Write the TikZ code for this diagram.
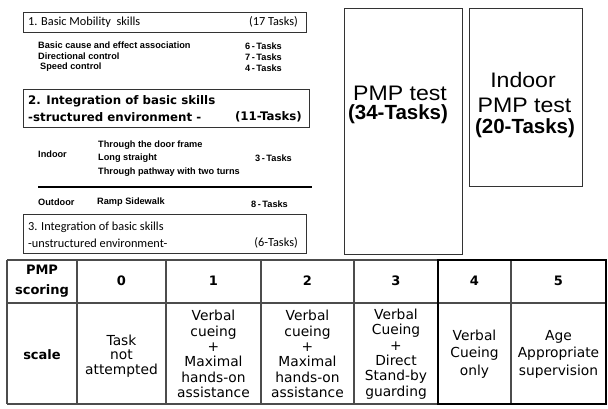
\documentclass[tikz,border=0pt]{standalone}
\usepackage{fontspec}
\setmainfont{DejaVu Sans}
\newfontfamily\calf{Carlito}
\newfontfamily\libf{Liberation Sans}
\begin{document}
\begin{tikzpicture}[x=1pt,y=-1pt,
  topbox/.style={draw=black!80,line width=0.8pt},
  lbl/.style={anchor=west,inner sep=0pt,font=\calf\fontsize{12.3}{14}\selectfont},
  item/.style={anchor=west,inner sep=0pt,font=\libf\bfseries\fontsize{9.2}{10}\selectfont},
  big/.style={anchor=west,inner sep=0pt,font=\bfseries\fontsize{11.8}{14}\selectfont},
  tline/.style={draw=black!70,line width=1.2pt},
  thick/.style={draw=black,line width=2.4pt},
  cell/.style={align=center,inner sep=0pt,font=\fontsize{13.8}{15.3}\selectfont},
  head/.style={align=center,inner sep=0pt,font=\bfseries\fontsize{13}{19.5}\selectfont},
  pmpa/.style={anchor=base,inner sep=0pt,font=\libf\fontsize{21}{21}\selectfont},
  pmpb/.style={anchor=base,inner sep=0pt,font=\libf\bfseries\fontsize{20.5}{21}\selectfont}
]
\useasboundingbox (0,0) rectangle (608,408);
% Box 1
\node[topbox,minimum width=283pt,minimum height=20pt,anchor=north west,inner sep=0pt] (b1) at (23,12) {};
\node[lbl] (b1t) at (28,22) {1. Basic Mobility\ \ skills};
\node[lbl,anchor=east] (b1n) at (298,22) {(17 Tasks)};
\node[item] (i1) at (38,45.5) {Basic cause and effect association};
\node[item] (i2) at (38,56.5) {Directional control};
\node[item] (i3) at (40,67.5) {Speed control};
\node[item] (n1) at (245,46) {6\,-\,Tasks};
\node[item] (n2) at (245,57) {7\,-\,Tasks};
\node[item] (n3) at (245,68) {4\,-\,Tasks};
% Box 2
\node[topbox,minimum width=286pt,minimum height=38pt,anchor=north west,inner sep=0pt] (b2) at (23,89) {};
\node[big] (b2a) at (28,101) {2. Integration of basic skills};
\node[big] (b2b) at (28,117) {-structured environment -};
\node[big,anchor=east] (b2n) at (302,117) {(11-Tasks)};
\node[item] (ind) at (38,154) {Indoor};
\node[item] (t1) at (98,145) {Through the door frame};
\node[item] (t2) at (98,158) {Long straight};
\node[item] (t3) at (98,172) {Through pathway with two turns};
\node[item] (n4) at (255,158) {3\,-\,Tasks};
\coordinate (sl) at (38,187);
\coordinate (sr) at (312,187);
\draw[line width=1.6pt] (sl) -- (sr);
\node[item] (out) at (38,202) {Outdoor};
\node[item] (rmp) at (97,202) {Ramp Sidewalk};
\node[item] (n5) at (251,204) {8\,-\,Tasks};
% Box 3
\node[topbox,minimum width=283pt,minimum height=39pt,anchor=north west,inner sep=0pt] (b3) at (23,214) {};
\node[lbl] (b3a) at (28,227) {3. Integration of basic skills};
\node[lbl] (b3b) at (28,243) {-unstructured environment-};
\node[lbl,anchor=east] (b3n) at (298,243) {(6-Tasks)};
% PMP boxes
\node[topbox,minimum width=118pt,minimum height=246pt,anchor=north west,inner sep=0pt] (p1) at (344,8) {};
\node[pmpa] (p1a) at (400,100) {\scalebox{1.1}[1]{PMP test}};
\node[pmpb] (p1b) at (398,119) {(34-Tasks)};
\node[topbox,minimum width=113pt,minimum height=178pt,anchor=north west,inner sep=0pt] (p2) at (469,8) {};
\node[pmpa] (p2a) at (523,87) {\scalebox{1.1}[1]{Indoor}};
\node[pmpa] (p2b) at (524.5,112) {\scalebox{1.1}[1]{PMP test}};
\node[pmpb] (p2c) at (525,133) {(20-Tasks)};
% Table
\coordinate (tl) at (7,260);
\coordinate (tr) at (606,260);
\coordinate (ml) at (7,303);
\coordinate (mr) at (606,303);
\coordinate (bl) at (7,404);
\coordinate (br) at (606,404);
\draw[tline] (tl) -- (tr);
\draw[tline] (ml) -- (mr);
\draw[tline] (bl) -- (br);
\foreach \x/\nm in {7/c0,77/c1,166/c2,261/c3,354/c4,511/c6,606/c7}{
  \coordinate (\nm t) at (\x,260);
  \coordinate (\nm b) at (\x,404);
  \draw[tline] (\nm t) -- (\nm b);
}
\coordinate (k1) at (438,260);
\coordinate (k2) at (606,404);
\draw[thick] (k1) rectangle (k2);
\node[head] (h0) at (42,281) {PMP\\scoring};
\node[head] (h1) at (121.5,281) {0};
\node[head] (h2) at (213.5,281) {1};
\node[head] (h3) at (307.5,281) {2};
\node[head] (h4) at (396,281) {3};
\node[head] (h5) at (474.5,281) {4};
\node[head] (h6) at (558.5,281) {5};
\node[head] (s0) at (42,355) {scale};
\node[cell,font=\fontsize{13.8}{14.5}\selectfont] (s1) at (121.5,356) {Task\\not\\attempted};
\node[cell] (s2) at (213.5,354) {Verbal\\cueing\\+\\Maximal\\hands-on\\assistance};
\node[cell] (s3) at (307.5,354) {Verbal\\cueing\\+\\Maximal\\hands-on\\assistance};
\node[cell] (s4) at (396,354) {Verbal\\Cueing\\+\\Direct\\Stand-by\\guarding};
\node[cell,font=\fontsize{13.8}{17.5}\selectfont] (s5) at (474.5,354) {Verbal\\Cueing\\only};
\node[cell,font=\fontsize{13.8}{17.5}\selectfont] (s6) at (558.5,354) {Age\\Appropriate\\supervision};
\end{tikzpicture}
\end{document}
